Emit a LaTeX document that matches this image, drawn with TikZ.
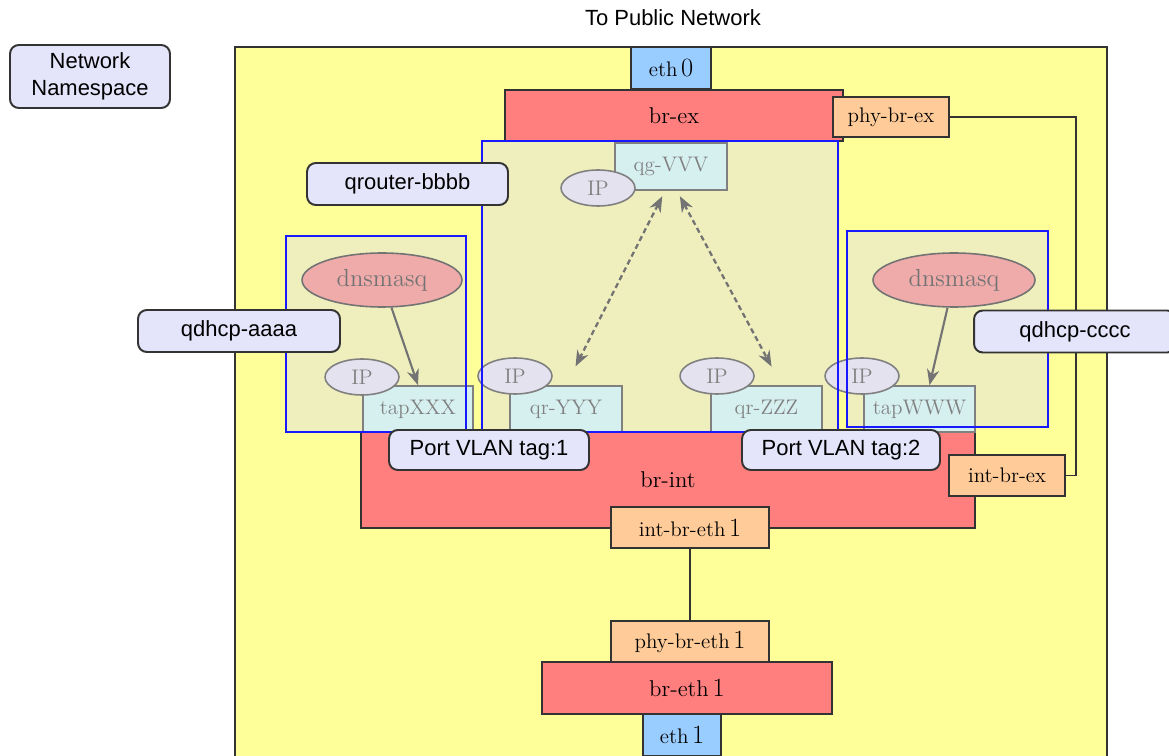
\documentclass[tikz,border=0pt]{standalone}
\usepackage{fontspec}
\setsansfont{Liberation Sans}
\usetikzlibrary{arrows.meta, shapes.geometric}

\definecolor{dcyellow}{HTML}{FFFF99}
\definecolor{brred}{HTML}{FF7F7F}
\definecolor{pairpeach}{HTML}{FFCC99}
\definecolor{ethblue}{HTML}{99CCFF}
\definecolor{nsbeige}{HTML}{EFEFBE}
\definecolor{nslav}{HTML}{E4E4FA}
\definecolor{portcyan}{HTML}{D6F0F0}
\definecolor{ipgray}{HTML}{E4E2EE}
\definecolor{dnspink}{HTML}{EFAAAA}

\newcommand{\ethnum}[1]{{\fontsize{15}{15}\selectfont #1}}

\begin{document}
\begin{tikzpicture}[x=0.02cm, y=-0.02cm,
  every node/.style={font=\fontsize{12}{14}\selectfont, inner sep=0pt},
  brbox/.style={draw=black!80, line width=1.1pt, fill=brred, font=\fontsize{13}{15}\selectfont},
  pairbox/.style={draw=black!80, line width=1.1pt, fill=pairpeach, minimum height=0.81cm},
  ethbox/.style={draw=black!80, line width=1.1pt, fill=ethblue, minimum height=0.84cm},
  nsbox/.style={fill=nsbeige},
  nsborder/.style={draw=blue!90, line width=1pt},
  nslabel/.style={draw=black!80, line width=1.1pt, rounded corners=5pt, fill=nslav,
    font=\sffamily\fontsize{12.5}{15}\selectfont, minimum height=0.84cm},
  portbox/.style={draw=black!50, line width=1pt, fill=portcyan, text=black!50, minimum height=0.92cm},
  ipnode/.style={ellipse, draw=black!50, line width=0.9pt, fill=ipgray, text=black!50,
    minimum width=1.48cm, minimum height=0.72cm},
  procnode/.style={ellipse, draw=black!55, line width=0.9pt, fill=dnspink, text=black!55,
    minimum width=3.2cm, minimum height=1.08cm, font=\fontsize{14}{16}\selectfont},
  flow/.style={black!55, line width=1.2pt, -{Stealth[length=9pt, width=7pt]}},
  route/.style={black!55, line width=1.3pt, dash pattern=on 3pt off 2pt,
    {Stealth[length=9pt, width=7pt]}-{Stealth[length=9pt, width=7pt]}}]
  \useasboundingbox (0,0) rectangle (1169,756);

  % network node
  \fill[dcyellow] (235,47) rectangle (1107,760);
  \draw[black!80, line width=1.1pt] (235,47) rectangle (1107,760);
  \node[font=\sffamily\fontsize{12.5}{15}\selectfont] (title) at (673,18) {To Public Network};
  \node[nslabel, minimum width=3.2cm, minimum height=1.26cm, align=center] (legend) at (90,76.5)
    {Network\\Namespace};

  % external bridge
  \node[brbox, minimum width=6.76cm, minimum height=1.02cm] (brex) at (674,115.5) {br-ex};
  \node[ethbox, minimum width=1.6cm] (eth0) at (671,68) {eth\,\ethnum{0}};
  \node[pairbox, minimum width=2.32cm] (phybrex) at (891,117) {phy-br-ex};

  % integration bridge
  \node[brbox, minimum width=12.28cm, minimum height=1.92cm] (brint) at (668,480) {br-int};
  \node[pairbox, minimum width=2.32cm] (intbrex) at (1007,475.5) {int-br-ex};
  \draw[black!80, line width=1.1pt] (phybrex.east) -- ++(126,0) |- (intbrex.east);

  % namespaces
  \node[nsbox, minimum width=7.12cm, minimum height=5.82cm] (nsrouter) at (660,286.5) {};
  \node[nsbox, minimum width=3.6cm, minimum height=3.92cm] (nsleft) at (376,334) {};
  \node[nsbox, minimum width=4.02cm, minimum height=3.92cm] (nsright) at (947.5,329) {};

  % router ports
  \node[portbox, minimum width=2.24cm, minimum height=0.94cm] (qgvvv) at (671,166.5) {qg-VVV};
  \node[portbox, minimum width=2.24cm] (qryyy) at (566,409) {qr-YYY};
  \node[portbox, minimum width=2.22cm] (qrzzz) at (766.5,409) {qr-ZZZ};
  \node[ipnode] (ipg) at (598,188) {IP};
  \node[ipnode] (ipy) at (515,376) {IP};
  \node[ipnode] (ipz) at (717,376) {IP};
  \draw[route, shorten <=0.12cm, shorten >=0.42cm] ([xshift=-0.12cm]qgvvv.south) -- (qryyy.north);
  \draw[route, shorten <=0.12cm, shorten >=0.42cm] ([xshift=0.12cm]qgvvv.south) -- ([xshift=0.3cm]qrzzz.north);

  % dhcp ports
  \node[portbox, minimum width=2.2cm] (tapxxx) at (418,409) {tapXXX};
  \node[portbox, minimum width=2.22cm] (tapwww) at (919.5,409) {tapWWW};
  \node[ipnode] (ipx) at (362,377) {IP};
  \node[ipnode] (ipw) at (862,376) {IP};
  \node[procnode] (dnsl) at (382,280) {dnsmasq};
  \node[procnode, minimum width=3.24cm] (dnsr) at (954,280) {dnsmasq};
  \draw[flow] (dnsl) -- (tapxxx.north);
  \draw[flow] (dnsr) -- ([xshift=0.2cm]tapwww.north);

  \draw[nsborder] (nsrouter.south west) rectangle (nsrouter.north east);
  \draw[nsborder] (nsleft.south west) rectangle (nsleft.north east);
  \draw[nsborder] (nsright.south west) rectangle (nsright.north east);

  % vlan tags
  \node[nslabel, minimum width=4cm, minimum height=0.8cm] (vlan1) at (489,450) {Port VLAN tag:1};
  \node[nslabel, minimum width=3.96cm, minimum height=0.8cm] (vlan2) at (841,450) {Port VLAN tag:2};

  % namespace labels
  \node[nslabel, minimum width=4.02cm] (qrouter) at (407.5,184) {qrouter-bbbb};
  \node[nslabel, minimum width=4.04cm] (qdhcpa) at (239,331) {qdhcp-aaaa};
  \node[nslabel, minimum width=4.04cm] (qdhcpc) at (1075,331.5) {qdhcp-cccc};

  % physical bridge
  \node[pairbox, minimum width=3.16cm] (intbreth) at (690,527.5) {int-br-eth\,\ethnum{1}};
  \node[brbox, minimum width=5.8cm, minimum height=1.04cm] (breth) at (687,688) {br-eth\,\ethnum{1}};
  \node[pairbox, minimum width=3.16cm] (phybreth) at (690,641.5) {phy-br-eth\,\ethnum{1}};
  \node[ethbox, minimum width=1.56cm] (eth1) at (682,735) {eth\,\ethnum{1}};
  \draw[black!80, line width=1.1pt] (intbreth) -- (phybreth);
\end{tikzpicture}
\end{document}
